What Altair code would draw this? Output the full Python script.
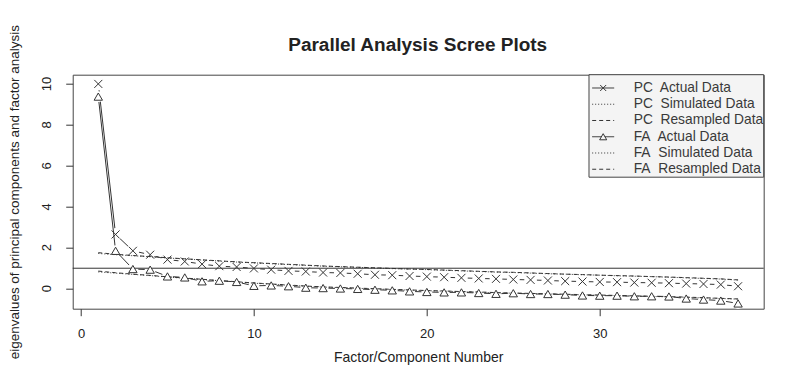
import altair as alt
import pandas as pd

# ---------------- data ----------------
factors = list(range(1, 39))
pc_actual = [10.0, 2.65, 1.85, 1.66, 1.42, 1.33, 1.20, 1.10, 1.06, 0.99,
             0.93, 0.87, 0.84, 0.79, 0.77, 0.73, 0.68, 0.66, 0.62, 0.59,
             0.56, 0.53, 0.50, 0.48, 0.45, 0.43, 0.40, 0.37, 0.35, 0.33,
             0.32, 0.30, 0.29, 0.27, 0.25, 0.23, 0.20, 0.12]
pc_simulated = [1.72, 1.66, 1.61, 1.56, 1.50, 1.45, 1.40, 1.35, 1.30, 1.26,
                1.22, 1.18, 1.14, 1.10, 1.07, 1.04, 1.01, 0.98, 0.96, 0.93,
                0.90, 0.87, 0.84, 0.81, 0.79, 0.76, 0.73, 0.71, 0.68, 0.66,
                0.63, 0.61, 0.59, 0.56, 0.53, 0.50, 0.47, 0.42]
pc_resampled = [1.76, 1.68, 1.62, 1.57, 1.51, 1.46, 1.41, 1.36, 1.31, 1.27,
                1.23, 1.19, 1.15, 1.11, 1.08, 1.05, 1.02, 0.99, 0.96, 0.94,
                0.91, 0.88, 0.85, 0.82, 0.80, 0.77, 0.74, 0.71, 0.69, 0.66,
                0.64, 0.62, 0.59, 0.57, 0.54, 0.51, 0.48, 0.43]
fa_actual = [9.38, 1.85, 0.96, 0.93, 0.60, 0.55, 0.36, 0.39, 0.33, 0.14,
             0.16, 0.12, 0.05, 0.03, 0.01, -0.01, -0.05, -0.08, -0.13, -0.16,
             -0.18, -0.18, -0.21, -0.25, -0.22, -0.26, -0.26, -0.29, -0.33, -0.34,
             -0.34, -0.37, -0.37, -0.38, -0.48, -0.53, -0.58, -0.72]
fa_simulated = [0.82, 0.76, 0.70, 0.64, 0.57, 0.51, 0.45, 0.39, 0.33, 0.27,
                0.22, 0.17, 0.12, 0.08, 0.05, 0.02, -0.01, -0.04, -0.07, -0.10,
                -0.12, -0.15, -0.17, -0.20, -0.22, -0.24, -0.26, -0.28, -0.30, -0.32,
                -0.34, -0.36, -0.38, -0.40, -0.42, -0.45, -0.48, -0.51]
fa_resampled = [0.86, 0.78, 0.71, 0.65, 0.58, 0.52, 0.46, 0.40, 0.34, 0.28,
                0.23, 0.18, 0.13, 0.09, 0.06, 0.03, 0.00, -0.03, -0.06, -0.09,
                -0.11, -0.14, -0.16, -0.19, -0.21, -0.23, -0.25, -0.27, -0.29, -0.31,
                -0.33, -0.35, -0.37, -0.39, -0.41, -0.44, -0.47, -0.50]
threshold = [1.0]

chart_title = ["Parallel Analysis Scree Plots"]
x_title = "Factor/Component Number"
y_title = "eigenvalues of principal components and factor analysis"

legend_labels = ["PC\u00a0 Actual Data", "PC\u00a0 Simulated Data", "PC\u00a0 Resampled Data",
                 "FA\u00a0 Actual Data", "FA\u00a0 Simulated Data", "FA\u00a0 Resampled Data"]
legend_styles = ["Actual", "Simulated", "Resampled", "Actual", "Simulated", "Resampled"]
legend_marks = ["x", "", "", "triangle", "", ""]

x_ticks = [0, 10, 20, 30]
y_ticks = [0, 2, 4, 6, 8, 10]

# ---------------- tables ----------------
series = {
    ("PC", "Actual"): pc_actual, ("PC", "Simulated"): pc_simulated,
    ("PC", "Resampled"): pc_resampled, ("FA", "Actual"): fa_actual,
    ("FA", "Simulated"): fa_simulated, ("FA", "Resampled"): fa_resampled,
}
rows = []
for (kind, style), vals in series.items():
    for f, v in zip(factors, vals):
        rows.append({"factor": f, "value": v, "kind": kind, "style": style,
                     "series": kind + " " + style})
df = pd.DataFrame(rows)
df_thr = pd.DataFrame({"value": threshold})
df_title = pd.DataFrame({"t": chart_title})
df_ytick = pd.DataFrame({"value": y_ticks, "lab": [str(v) for v in y_ticks]})
df_leg = pd.DataFrame({"i": list(range(len(legend_labels))), "label": legend_labels,
                       "style": legend_styles, "mk": legend_marks})

INK = "#333333"
TXT = "#222222"
FONT = "Liberation Sans"
W, H = 691, 234

xscale = alt.Scale(domain=[-0.48, 39.48], nice=False, zero=False)
yscale = alt.Scale(domain=[-0.976, 10.45], nice=False, zero=False)
dash_scale = alt.Scale(domain=["Actual", "Simulated", "Resampled"],
                       range=[[1, 0], [1, 2], [4, 3]])

X = alt.X("factor:Q", scale=xscale,
          axis=alt.Axis(values=x_ticks, title=x_title, format="d", grid=False, domain=False,
                        tickSize=7, tickColor=INK, labelPadding=12, labelFontSize=13,
                        labelFont=FONT, labelColor=TXT, labelFlush=False,
                        titleFont=FONT, titleFontSize=14, titleFontWeight="normal",
                        titleColor=TXT, titleY=49, titleBaseline="middle"))
Y = alt.Y("value:Q", scale=yscale,
          axis=alt.Axis(values=y_ticks, title=y_title, grid=False, domain=False,
                        tickSize=7, tickColor=INK, labels=False,
                        titleFont=FONT, titleFontSize=13.5, titleFontWeight="normal",
                        titleColor=TXT, titleX=-58.7, titleY=H / 2, titleAngle=270,
                        titleBaseline="middle", titleAlign="center"))

base = alt.Chart(df)


def actual_line(kind):
    return base.transform_filter(f"datum.kind == '{kind}' && datum.style == 'Actual'").mark_line(
        color=INK, strokeWidth=1).encode(x=X, y=Y)


def gap_circles(kind, size):
    return base.transform_filter(f"datum.kind == '{kind}' && datum.style == 'Actual'").mark_point(
        shape="circle", filled=True, color="white", opacity=1, size=size).encode(x="factor:Q", y="value:Q")


ref_lines = base.transform_filter("datum.style != 'Actual'").mark_line(
    color=INK, strokeWidth=1).encode(
    x="factor:Q", y="value:Q", detail="series:N",
    strokeDash=alt.StrokeDash("style:N", scale=dash_scale, legend=None))

hline = alt.Chart(df_thr).mark_rule(color=INK, strokeWidth=1).encode(y="value:Q")

xmarks = base.transform_filter("datum.kind == 'PC' && datum.style == 'Actual'").mark_point(
    shape="M-1,-1L1,1M1,-1L-1,1", color=INK, strokeWidth=1, size=64, opacity=1).encode(
    x="factor:Q", y="value:Q")
tmarks = base.transform_filter("datum.kind == 'FA' && datum.style == 'Actual'").mark_point(
    shape="triangle-up", filled=False, fill="white", fillOpacity=1, stroke=INK, strokeWidth=1,
    size=70, opacity=1).encode(x="factor:Q", y="value:Q")

# rotated y tick labels, placed through the y scale
ytick_labels = alt.Chart(df_ytick).mark_text(
    angle=270, align="center", baseline="middle", font=FONT, fontSize=13, color=TXT).encode(
    x=alt.value(-25.5), y="value:Q", text="lab:N")

# ---------------- title (pixel position relative to plot area) ----------------
title_mark = alt.Chart(df_title).mark_text(
    font=FONT, fontSize=19, fontWeight="bold", color=TXT, align="center", baseline="middle").encode(
    x=alt.value(W / 2 - 0.5), y=alt.value(-29.7), text="t:N")

# ---------------- legend (pixel positions inside plot area) ----------------
leg = alt.Chart(df_leg).transform_calculate(py="13.3 + 16.25 * datum.i")
leg_box = alt.Chart(df_thr).mark_rect(fill="#f4f4f4", stroke="#444444", strokeWidth=1).encode(
    x=alt.value(516.3), x2=alt.value(W), y=alt.value(0), y2=alt.value(102.5))
leg_rules = leg.mark_rule(color=INK, strokeWidth=1).encode(
    x=alt.value(519.5), x2=alt.value(541.5), y=alt.Y("py:Q", scale=None),
    strokeDash=alt.StrokeDash("style:N", scale=dash_scale, legend=None))
leg_x = leg.transform_filter("datum.mk == 'x'").mark_point(
    shape="M-1,-1L1,1M1,-1L-1,1", color=INK, strokeWidth=1, size=36, opacity=1).encode(
    x=alt.value(530.5), y=alt.Y("py:Q", scale=None))
leg_t = leg.transform_filter("datum.mk == 'triangle'").mark_point(
    shape="triangle-up", filled=False, fill="#f4f4f4", fillOpacity=1, stroke=INK, strokeWidth=1,
    size=50, opacity=1).encode(x=alt.value(530.5), y=alt.Y("py:Q", scale=None))
leg_text = leg.mark_text(align="left", baseline="middle", font=FONT, fontSize=13.8, color="#3a3a3a").encode(
    x=alt.value(561.0), y=alt.Y("py:Q", scale=None), text="label:N")

chart = alt.layer(
    actual_line("PC"), gap_circles("PC", 165), actual_line("FA"), gap_circles("FA", 120),
    hline, ref_lines, xmarks, tmarks, ytick_labels,
    leg_box, leg_rules, leg_x, leg_t, leg_text, title_mark,
).properties(
    width=W, height=H,
    autosize=alt.AutoSizeParams(type="none"),
    padding={"left": 64.7, "top": 66.7, "right": 20, "bottom": 60},
    background="white",
).configure_view(
    stroke="#444444", strokeWidth=1
)

chart.save("out.html", embed_options={"renderer": "svg", "actions": False})
